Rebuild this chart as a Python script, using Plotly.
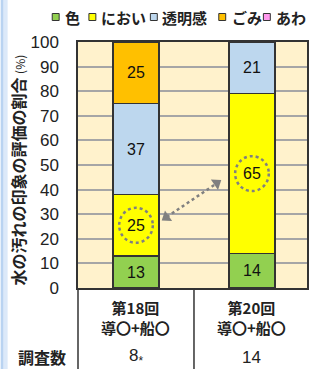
import math
import plotly.graph_objects as go

# ---- data ----
categories = ["第18回<br>導〇+船〇", "第20回<br>導〇+船〇"]
survey_counts = ["8<sub>*</sub>", "14"]
series_names = ["色", "におい", "透明感", "ごみ", "あわ"]
iro = [13, 14]
nioi = [25, 65]
toumei = [37, 21]
gomi = [25, 0]
awa = [0, 0]
series_values = [iro, nioi, toumei, gomi, awa]
series_colors = ["#92D050", "#FFFF00", "#BDD7EE", "#FFC000", "#FF99EE"]
y_ticks = list(range(0, 101, 10))

W, H = 309, 369
L, R, T, B = 78, 0, 42, 81
PW, PH = W - L - R, H - T - B
CAT_PX = 117  # pixels per category

def px(p):  # pixel x -> paper
    return (p - L) / PW

def py(p):  # pixel y -> paper
    return (H - B - p) / PH

FONT = "Liberation Sans, Arial, Noto Sans CJK JP, sans-serif"
CJK = "Noto Sans CJK JP"
xs = list(range(len(categories)))

fig = go.Figure()
for name, vals, col in zip(series_names, series_values, series_colors):
    fig.add_bar(
        x=xs, y=vals, name=name, width=0.4,
        marker=dict(color=col, line=dict(color="#333333", width=1.5)),
        text=[str(v) if v > 0 else "" for v in vals],
        textposition="inside", insidetextanchor="middle", textangle=0,
        textfont=dict(family=FONT, size=16, color="#111111"),
        showlegend=False, hoverinfo="skip",
    )

shapes = []
annotations = []

# left light-blue strip
shapes.append(dict(type="rect", xref="paper", yref="paper", x0=px(0), x1=px(3),
                   y0=py(H), y1=py(0), fillcolor="#B9D3F1", line_width=0, layer="below"))
shapes.append(dict(type="rect", xref="paper", yref="paper", x0=px(3), x1=px(7),
                   y0=py(H), y1=py(0), fillcolor="#DCE9F9", line_width=0, layer="below"))

# dotted circles around highlighted values (nioi segments)
for i in xs:
    cy = iro[i] + nioi[i] / 2
    shapes.append(dict(type="circle", xref="x", yref="y",
                       x0=i - 0.145, x1=i + 0.145, y0=cy - 7.1, y1=cy + 7.1,
                       line=dict(color="#808080", width=2.5, dash="dot")))

# dotted double arrow between them
ax0, ay0 = 0.226, iro[0] + nioi[0] / 2 + 2.0
ax1, ay1 = 0.731, ay0 + 16.3
shapes.append(dict(type="line", xref="x", yref="y", x0=ax0 + 0.04, y0=ay0 + 1.4,
                   x1=ax1 - 0.04, y1=ay1 - 1.4,
                   line=dict(color="#808080", width=2.5, dash="dot")))
dxp = (ax1 - ax0) * CAT_PX
dyp = (ay1 - ay0) * PH / 100
ang = math.degrees(math.atan2(dxp, dyp))
fig.add_scatter(x=[ax0 + 0.035, ax1 - 0.035], y=[ay0 + 1.2, ay1 - 1.2], mode="markers",
                marker=dict(symbol="triangle-up", size=11, color="#808080",
                            angle=[ang + 180, ang], line_width=0),
                showlegend=False, hoverinfo="skip")

# table lines below the plot
for xp in [px(78), px(195)]:
    shapes.append(dict(type="line", xref="paper", yref="paper", x0=xp, x1=xp,
                       y0=0, y1=py(H + 5), line=dict(color="#333333", width=1.5)))

# category labels and survey counts
for i, (cat, cnt) in enumerate(zip(categories, survey_counts)):
    annotations.append(dict(x=i, y=py(317.5), xref="x", yref="paper", text=f"<b>{cat}</b>",
                            showarrow=False, font=dict(family=CJK, size=15, color="#222222"),
                            xanchor="center", yanchor="middle"))
    annotations.append(dict(x=i, y=py(357), xref="x", yref="paper", text=cnt,
                            showarrow=False, font=dict(family=FONT, size=17, color="#222222"),
                            xanchor="center", yanchor="middle"))
annotations.append(dict(x=px(42), y=py(357), xref="paper", yref="paper", text="<b>調査数</b>",
                        showarrow=False, font=dict(family=CJK, size=16, color="#222222"),
                        xanchor="center", yanchor="middle"))

# y-axis title
annotations.append(dict(x=px(17), y=py(170), xref="paper", yref="paper",
                        text="<b>水の汚れの印象の評価の割合 </b><span style='font-size:12px'>(%)</span>",
                        textangle=-90, showarrow=False,
                        font=dict(family=CJK, size=16, color="#222222"),
                        xanchor="center", yanchor="middle"))

# legend (manual)
leg_marker_x = [55.5, 92.5, 154.5, 223.5, 268.5]
leg_text_x = [63, 99, 161, 231, 276]
for name, col, mx, tx in zip(series_names, series_colors, leg_marker_x, leg_text_x):
    shapes.append(dict(type="rect", xref="paper", yref="paper",
                       x0=px(mx - 3.5), x1=px(mx + 3.5), y0=py(17 + 3.5), y1=py(17 - 3.5),
                       fillcolor=col, line=dict(color="#333333", width=1)))
    annotations.append(dict(x=px(tx), y=py(17), xref="paper", yref="paper", text=f"<b>{name}</b>",
                            showarrow=False, font=dict(family=CJK, size=15, color="#222222"),
                            xanchor="left", yanchor="middle"))

fig.update_layout(
    width=W, height=H, margin=dict(l=L, r=R, t=T, b=B),
    barmode="stack", paper_bgcolor="white", plot_bgcolor="#FFF2CC",
    shapes=shapes, annotations=annotations, showlegend=False,
    xaxis=dict(range=[-0.5, -0.5 + PW / CAT_PX], tickvals=xs, showticklabels=False,
               showgrid=False, zeroline=False, showline=True, linecolor="#333333",
               linewidth=1.5, mirror=True, fixedrange=True),
    yaxis=dict(range=[0, 100], tickvals=y_ticks, ticktext=[str(v) for v in y_ticks],
               tickfont=dict(family=FONT, size=17, color="#222222"),
               showgrid=True, gridcolor="#A6A6A6", gridwidth=1.5, zeroline=False,
               showline=True, linecolor="#333333", linewidth=1.5, mirror=True,
               ticks="", ticklabelstandoff=14, fixedrange=True),
)

fig.write_html("out.html", config={"displayModeBar": False},
               post_script="document.body.style.margin='0';document.body.style.overflow='hidden';")
